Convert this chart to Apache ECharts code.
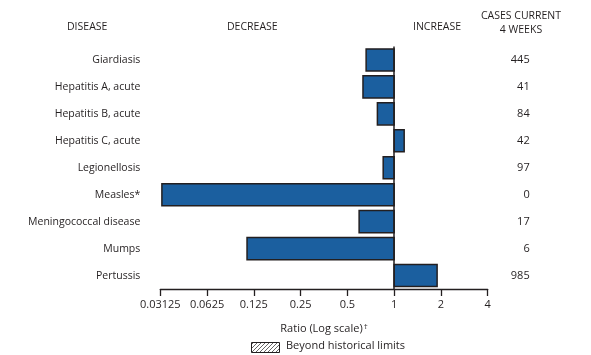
<!DOCTYPE html>
<html><head><meta charset="utf-8">
<script src="https://cdn.jsdelivr.net/npm/echarts@6/dist/echarts.min.js"></script>
<style>html,body{margin:0;padding:0;background:#fff}#c{width:591px;height:355px}</style>
</head><body><div id="c"></div>
<script>
const diseases = ["Giardiasis","Hepatitis A, acute","Hepatitis B, acute","Hepatitis C, acute","Legionellosis","Measles*","Meningococcal disease","Mumps","Pertussis"];
const ratios = [0.66, 0.63, 0.78, 1.16, 0.85, 0.032, 0.595, 0.113, 1.89];
const cases = ["445","41","84","42","97","0","17","6","985"];
const tickValues = [0.03125, 0.0625, 0.125, 0.25, 0.5, 1, 2, 4];
const tickLabels = ["0.03125","0.0625","0.125","0.25","0.5","1","2","4"];

const FONT = "'Open Sans', 'Noto Sans', sans-serif";
const TXT = '#231f20';

const pc = document.createElement('canvas');
pc.width = 4; pc.height = 4;
const g = pc.getContext('2d');
g.fillStyle = '#fff'; g.fillRect(0,0,4,4);
g.strokeStyle = '#666'; g.lineWidth = 1;
g.beginPath(); g.moveTo(0,4); g.lineTo(4,0); g.moveTo(-1,1); g.lineTo(1,-1); g.moveTo(3,5); g.lineTo(5,3); g.stroke();

const chart = echarts.init(document.getElementById('c'), null, {renderer:'canvas'});
chart.setOption({
  animation: false,
  textStyle: {fontFamily: FONT, color: TXT},
  grid: {left: 160.3, right: 591 - 487.7, top: 46.5, bottom: 355 - 289},
  xAxis: {
    type: 'log', logBase: 2, min: 0.03125, max: 4,
    name: 'Ratio (Log scale){s|\u2020}', nameLocation: 'middle', nameGap: 34,
    nameTextStyle: {fontSize: 11, color: TXT, fontFamily: FONT,
      rich: {s: {fontSize: 8, color: TXT, fontFamily: FONT, verticalAlign: 'top', padding: [0, 0, 4, 1]}}},
    axisLine: {show: true, lineStyle: {color: TXT, width: 1.3}},
    axisTick: {show: true, length: 7, lineStyle: {color: TXT, width: 1.3}},
    axisLabel: {fontSize: 11, color: TXT, fontFamily: FONT, margin: 10,
      formatter: v => { const i = tickValues.findIndex(t => Math.abs(t - v) < 1e-9); return i >= 0 ? tickLabels[i] : ''; }},
    splitLine: {show: false}, minorTick: {show: false}
  },
  yAxis: [{
    type: 'category', data: diseases, inverse: true,
    axisLine: {show: false}, axisTick: {show: false},
    axisLabel: {fontSize: 10.5, color: TXT, fontFamily: FONT, margin: 20}
  }, {
    type: 'category', data: cases, inverse: true, position: 'right',
    axisLine: {show: false}, axisTick: {show: false},
    axisLabel: {fontSize: 11, color: TXT, fontFamily: FONT, margin: 42, align: 'right'}
  }],
  series: [{
    type: 'custom',
    data: ratios.map((r, i) => [r, i]),
    renderItem: function (params, api) {
      const v = api.value(0), c = api.value(1);
      const p1 = api.coord([v, c]);
      const p0 = api.coord([1, c]);
      const h = api.size([0, 1])[1] * 0.82;
      const x = Math.min(p0[0], p1[0]);
      const w = Math.abs(p1[0] - p0[0]);
      return {type: 'rect', shape: {x: x, y: p1[1] - h / 2, width: w, height: h},
        style: {fill: '#1b5f9f', stroke: TXT, lineWidth: 1.5}};
    },
    markLine: {
      silent: true, symbol: 'none', label: {show: false},
      lineStyle: {color: TXT, width: 1.5, type: 'solid'},
      data: [{xAxis: 1}]
    },
    z: 2
  }],
  graphic: [
    {type: 'text', left: 67, top: 22, style: {text: 'DISEASE', font: '10.5px ' + FONT, fill: TXT}},
    {type: 'text', left: 227, top: 22, style: {text: 'DECREASE', font: '10.5px ' + FONT, fill: TXT}},
    {type: 'text', left: 413, top: 22, style: {text: 'INCREASE', font: '10.5px ' + FONT, fill: TXT}},
    {type: 'text', x: 521, y: 9, style: {text: 'CASES CURRENT\n4 WEEKS', font: '10.5px ' + FONT, fill: TXT, align: 'center', lineHeight: 14}},
    {type: 'rect', shape: {x: 251.5, y: 342.5, width: 28, height: 10}, style: {fill: {image: pc, repeat: 'repeat'}, stroke: TXT, lineWidth: 1}},
    {type: 'text', left: 286, top: 340, style: {text: 'Beyond historical limits', font: '11px ' + FONT, fill: TXT}}
  ]
});
</script></body></html>
